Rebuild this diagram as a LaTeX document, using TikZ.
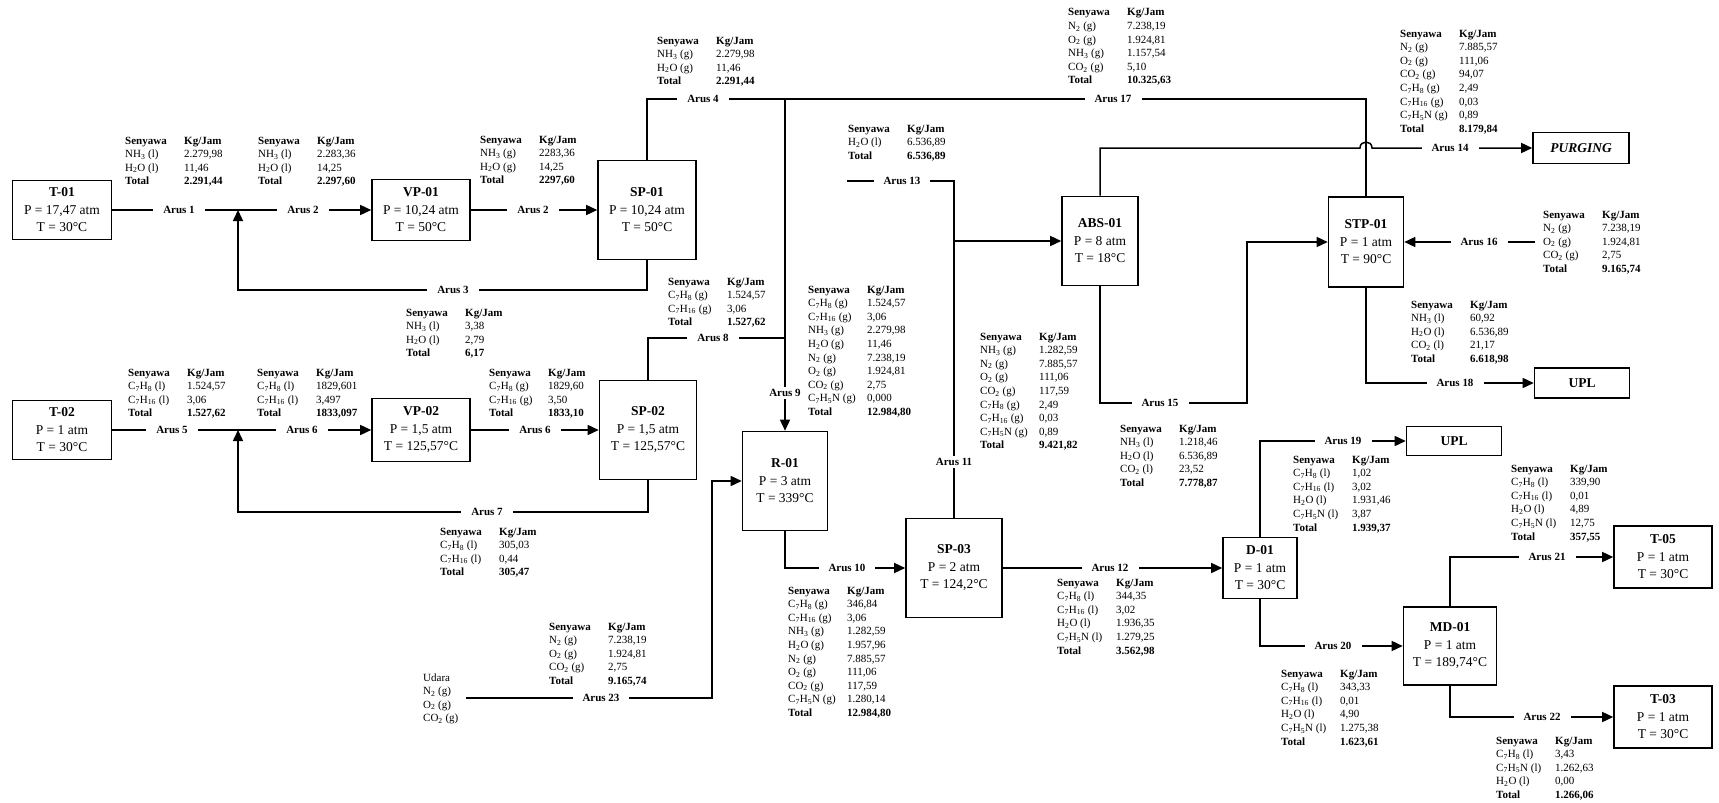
\documentclass[tikz,border=0pt]{standalone}
\usepackage{fontspec}
\setmainfont{Liberation Serif}
\usetikzlibrary{arrows.meta}

\newcommand{\tol}[1]{C\textsubscript{7}H\textsubscript{8} (#1)}
\newcommand{\hep}[1]{C\textsubscript{7}H\textsubscript{16} (#1)}
\newcommand{\ben}[1]{C\textsubscript{7}H\textsubscript{5}N (#1)}
\newcommand{\amo}[1]{NH\textsubscript{3} (#1)}
\newcommand{\air}[1]{H\textsubscript{2}O (#1)}
\newcommand{\nit}[1]{N\textsubscript{2} (#1)}
\newcommand{\oks}[1]{O\textsubscript{2} (#1)}
\newcommand{\kdo}[1]{CO\textsubscript{2} (#1)}
\newcommand{\tabel}[1]{\begin{tabular}[t]{@{}p{59pt}@{}l@{}}\textbf{Senyawa} & \textbf{Kg/Jam}\\ #1\end{tabular}}
\newcommand{\jumlah}[1]{\textbf{Total} & \textbf{#1}}
\newcommand{\alat}[3]{\textbf{#1}\\P = #2\\T = #3}

\begin{document}
\begin{tikzpicture}[
  x=1pt,
  y=-1pt,
  alat/.style={draw, line width=1.6pt, align=center, inner sep=0pt, font=\fontsize{13.5}{17.5}\selectfont},
  arus/.style={fill=white, inner xsep=10pt, inner ysep=2pt, font=\bfseries\fontsize{11}{13}\selectfont},
  datatab/.style={anchor=base west, inner sep=0pt, font=\fontsize{11}{13.6}\selectfont},
  alir/.style={line width=1.5pt},
  panah/.style={alir, -{Triangle[length=11pt,width=10pt]}}
]

% White background
\path[fill=white, use as bounding box] (0,0) rectangle (1719,803);

% Units
\node[alat, minimum width=99, minimum height=59] (t01) at (62,210) {\alat{T-01}{17,47 atm}{30°C}};
\node[alat, minimum width=98, minimum height=61] (vp01) at (421,210) {\alat{VP-01}{10,24 atm}{50°C}};
\node[alat, minimum width=98, minimum height=99] (sp01) at (647,210) {\alat{SP-01}{10,24 atm}{50°C}};
\node[alat, minimum width=99, minimum height=59] (t02) at (62,430) {\alat{T-02}{1 atm}{30°C}};
\node[alat, minimum width=98, minimum height=63] (vp02) at (421,430) {\alat{VP-02}{1,5 atm}{125,57°C}};
\node[alat, minimum width=97, minimum height=99] (sp02) at (648,430) {\alat{SP-02}{1,5 atm}{125,57°C}};
\node[alat, minimum width=85, minimum height=99] (r01) at (785,481) {\alat{R-01}{3 atm}{339°C}};
\node[alat, minimum width=96, minimum height=99] (sp03) at (954,568) {\alat{SP-03}{2 atm}{124,2°C}};
\node[alat, minimum width=76, minimum height=89] (abs01) at (1100,241) {\alat{ABS-01}{8 atm}{18°C}};
\node[alat, minimum width=75, minimum height=90] (stp01) at (1366,242) {\alat{STP-01}{1 atm}{90°C}};
\node[alat, minimum width=96, minimum height=31] (purging) at (1581,148) {\textbf{\textit{PURGING}}};
\node[alat, minimum width=95, minimum height=30] (upl1) at (1582,383) {\textbf{UPL}};
\node[alat, minimum width=95, minimum height=29] (upl2) at (1454,441) {\textbf{UPL}};
\node[alat, minimum width=74, minimum height=61] (d01) at (1260,568) {\alat{D-01}{1 atm}{30°C}};
\node[alat, minimum width=93, minimum height=78] (md01) at (1450,646) {\alat{MD-01}{1 atm}{189,74°C}};
\node[alat, minimum width=98, minimum height=62] (t05) at (1663,557) {\alat{T-05}{1 atm}{30°C}};
\node[alat, minimum width=98, minimum height=62] (t03) at (1663,717) {\alat{T-03}{1 atm}{30°C}};

% Bends and free ends
\coordinate (j1) at (238,210);
\coordinate (k3) at (238,290);
\coordinate (j2) at (785,99);
\coordinate (j3) at (785,338);
\coordinate (j4) at (238,430);
\coordinate (k7) at (238,512);
\coordinate (u23) at (466,698);
\coordinate (k23) at (712,481);
\coordinate (u13) at (847,181);
\coordinate (k13) at (954,241);
\coordinate (hop) at (1360,148);
\coordinate (k15) at (1247,403);
\coordinate (u16) at (1535,242);

% Streams
\draw[alir] (t01.east) -- (j1);
\draw[panah] (j1) -- (vp01.west);
\draw[panah] (vp01.east) -- (sp01.west);
\draw[panah] (sp01.south) |- (k3) -- (j1);
\draw[alir] (sp01.north) |- (j2);
\draw[alir] (j2) -| (stp01.north);
\draw[panah] (j2) -- (r01.north);
\draw[alir] (sp02.north) |- (j3);
\draw[alir] (t02.east) -- (j4);
\draw[panah] (j4) -- (vp02.west);
\draw[panah] (vp02.east) -- (sp02.west);
\draw[panah] (sp02.south) |- (k7) -- (j4);
\draw[panah] (u23) -| (k23) -- (r01.west);
\draw[panah] (r01.south) |- (sp03.west);
\draw[panah] (sp03.north) |- (abs01.west);
\draw[alir] (u13) -| (k13);
\draw[panah] (abs01.north) |- (hop) .. controls +(0,-8) and +(0,-8) .. ++(12,0) -- (purging.west);
\draw[panah] (abs01.south) |- (k15) |- (stp01.west);
\draw[panah] (u16) -- (stp01.east);
\draw[panah] (stp01.south) |- (upl1.west);
\draw[panah] (sp03.east) -- (d01.west);
\draw[panah] (d01.north) |- (upl2.west);
\draw[panah] (d01.south) |- (md01.west);
\draw[panah] (md01.north) |- (t05.west);
\draw[panah] (md01.south) |- (t03.west);

% Stream labels
\node[arus] (a1) at (179,210) {Arus 1};
\node[arus] (a2) at (303,210) {Arus 2};
\node[arus] (a2b) at (533,210) {Arus 2};
\node[arus] (a3) at (453,290) {Arus 3};
\node[arus] (a4) at (703,99) {Arus 4};
\node[arus] (a5) at (172,430) {Arus 5};
\node[arus] (a6) at (302,430) {Arus 6};
\node[arus] (a6b) at (535,430) {Arus 6};
\node[arus] (a7) at (487,512) {Arus 7};
\node[arus] (a8) at (713,338) {Arus 8};
\node[arus] (a9) at (785,393) {Arus 9};
\node[arus] (a10) at (847,568) {Arus 10};
\node[arus] (a11) at (954,462) {Arus 11};
\node[arus] (a12) at (1110,568) {Arus 12};
\node[arus] (a13) at (902,181) {Arus 13};
\node[arus] (a14) at (1450,148) {Arus 14};
\node[arus] (a15) at (1160,403) {Arus 15};
\node[arus] (a16) at (1479,242) {Arus 16};
\node[arus] (a17) at (1113,99) {Arus 17};
\node[arus] (a18) at (1455,383) {Arus 18};
\node[arus] (a19) at (1343,441) {Arus 19};
\node[arus] (a20) at (1333,646) {Arus 20};
\node[arus] (a21) at (1547,557) {Arus 21};
\node[arus] (a22) at (1542,717) {Arus 22};
\node[arus] (a23) at (601,698) {Arus 23};

% Mass tables
\node[datatab] (tb1) at (125,144) {\tabel{\amo{l} & 2.279,98\\ \air{l} & 11,46\\ \jumlah{2.291,44}}};
\node[datatab] (tb2) at (258,144) {\tabel{\amo{l} & 2.283,36\\ \air{l} & 14,25\\ \jumlah{2.297,60}}};
\node[datatab] (tb3) at (480,143) {\tabel{\amo{g} & 2283,36\\ \air{g} & 14,25\\ \jumlah{2297,60}}};
\node[datatab] (tb4) at (657,44) {\tabel{\amo{g} & 2.279,98\\ \air{g} & 11,46\\ \jumlah{2.291,44}}};
\node[datatab] (tb5) at (1068,16) {\tabel{\nit{g} & 7.238,19\\ \oks{g} & 1.924,81\\ \amo{g} & 1.157,54\\ \kdo{g} & 5,10\\ \jumlah{10.325,63}}};
\node[datatab] (tb6) at (848,132) {\tabel{\air{l} & 6.536,89\\ \jumlah{6.536,89}}};
\node[datatab] (tb7) at (1400,37) {\tabel{\nit{g} & 7.885,57\\ \oks{g} & 111,06\\ \kdo{g} & 94,07\\ \tol{g} & 2,49\\ \hep{g} & 0,03\\ \ben{g} & 0,89\\ \jumlah{8.179,84}}};
\node[datatab] (tb8) at (1543,218) {\tabel{\nit{g} & 7.238,19\\ \oks{g} & 1.924,81\\ \kdo{g} & 2,75\\ \jumlah{9.165,74}}};
\node[datatab] (tb9) at (1411,308) {\tabel{\amo{l} & 60,92\\ \air{l} & 6.536,89\\ \kdo{l} & 21,17\\ \jumlah{6.618,98}}};
\node[datatab] (tb10) at (406,316) {\tabel{\amo{l} & 3,38\\ \air{l} & 2,79\\ \jumlah{6,17}}};
\node[datatab] (tb11) at (668,285) {\tabel{\tol{g} & 1.524,57\\ \hep{g} & 3,06\\ \jumlah{1.527,62}}};
\node[datatab] (tb12) at (808,293) {\tabel{\tol{g} & 1.524,57\\ \hep{g} & 3,06\\ \amo{g} & 2.279,98\\ \air{g} & 11,46\\ \nit{g} & 7.238,19\\ \oks{g} & 1.924,81\\ \kdo{g} & 2,75\\ \ben{g} & 0,000\\ \jumlah{12.984,80}}};
\node[datatab] (tb13) at (980,340) {\tabel{\amo{g} & 1.282,59\\ \nit{g} & 7.885,57\\ \oks{g} & 111,06\\ \kdo{g} & 117,59\\ \tol{g} & 2,49\\ \hep{g} & 0,03\\ \ben{g} & 0,89\\ \jumlah{9.421,82}}};
\node[datatab] (tb14) at (1120,432) {\tabel{\amo{l} & 1.218,46\\ \air{l} & 6.536,89\\ \kdo{l} & 23,52\\ \jumlah{7.778,87}}};
\node[datatab] (tb15) at (128,376) {\tabel{\tol{l} & 1.524,57\\ \hep{l} & 3,06\\ \jumlah{1.527,62}}};
\node[datatab] (tb16) at (257,376) {\tabel{\tol{l} & 1829,601\\ \hep{l} & 3,497\\ \jumlah{1833,097}}};
\node[datatab] (tb17) at (489,376) {\tabel{\tol{g} & 1829,60\\ \hep{g} & 3,50\\ \jumlah{1833,10}}};
\node[datatab] (tb18) at (440,535) {\tabel{\tol{l} & 305,03\\ \hep{l} & 0,44\\ \jumlah{305,47}}};
\node[datatab] (tb19) at (549,630) {\tabel{\nit{g} & 7.238,19\\ \oks{g} & 1.924,81\\ \kdo{g} & 2,75\\ \jumlah{9.165,74}}};
\node[datatab] (udara) at (423,681) {\begin{tabular}[t]{@{}l@{}}Udara\\ \nit{g}\\ \oks{g}\\ \kdo{g}\end{tabular}};
\node[datatab] (tb21) at (788,594) {\tabel{\tol{g} & 346,84\\ \hep{g} & 3,06\\ \amo{g} & 1.282,59\\ \air{g} & 1.957,96\\ \nit{g} & 7.885,57\\ \oks{g} & 111,06\\ \kdo{g} & 117,59\\ \ben{g} & 1.280,14\\ \jumlah{12.984,80}}};
\node[datatab] (tb22) at (1057,586) {\tabel{\tol{l} & 344,35\\ \hep{l} & 3,02\\ \air{l} & 1.936,35\\ \ben{l} & 1.279,25\\ \jumlah{3.562,98}}};
\node[datatab] (tb23) at (1293,463) {\tabel{\tol{l} & 1,02\\ \hep{l} & 3,02\\ \air{l} & 1.931,46\\ \ben{l} & 3,87\\ \jumlah{1.939,37}}};
\node[datatab] (tb24) at (1511,472) {\tabel{\tol{l} & 339,90\\ \hep{l} & 0,01\\ \air{l} & 4,89\\ \ben{l} & 12,75\\ \jumlah{357,55}}};
\node[datatab] (tb25) at (1281,677) {\tabel{\tol{l} & 343,33\\ \hep{l} & 0,01\\ \air{l} & 4,90\\ \ben{l} & 1.275,38\\ \jumlah{1.623,61}}};
\node[datatab] (tb26) at (1496,744) {\tabel{\tol{l} & 3,43\\ \ben{l} & 1.262,63\\ \air{l} & 0,00\\ \jumlah{1.266,06}}};

\end{tikzpicture}
\end{document}
